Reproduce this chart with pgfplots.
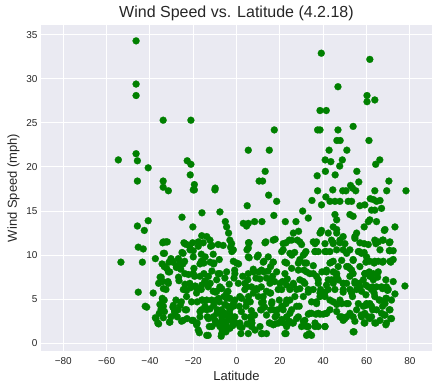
\documentclass[border=0pt]{standalone}
\usepackage{fontspec}
\setmainfont{Liberation Sans}
\usepackage{pgfplots}
\pgfplotsset{compat=1.18}
\usepackage{pgfplotstable}
\definecolor{bgc}{HTML}{EAEAF2}
\definecolor{txt}{HTML}{262626}
\definecolor{ptc}{HTML}{008000}

\pgfplotstableread{
lat wind
-46.4 34.3
-46.4 29.4
-46.4 28.1
-54.6 20.8
-46.4 21.5
-45.8 20.7
-45.8 18.4
-40.8 19.9
-33.9 25.3
-33.9 18.4
-33.9 17.7
-31.5 17.3
-21.1 25.3
-22.8 20.7
-21.1 20.3
-21.4 19.1
-19.5 18.0
-19.5 17.4
-9.9 17.6
5.4 21.9
15.1 21.9
10.4 18.4
12.0 18.4
13.2 19.5
17.4 24.2
39.1 32.9
38.5 26.4
41.4 26.4
37.4 24.2
38.5 24.2
46.8 29.1
46.8 24.2
46.3 23.0
47.8 23.0
42.7 21.9
50.9 21.9
40.9 20.8
43.5 20.6
48.8 20.8
47.6 20.1
41.0 19.5
45.5 19.1
37.2 19.0
55.5 19.5
56.4 18.3
53.8 24.6
61.5 32.2
60.2 28.1
60.2 27.4
63.8 27.6
61.1 23.0
66.1 20.8
64.2 20.3
70.3 18.4
69.3 17.3
63.8 17.3
78.2 17.3
52.6 17.9
53.5 17.6
49.0 17.3
50.5 17.3
55.0 17.3
44.4 17.4
37.4 17.3
-20.0 17.4
-10.0 17.4
34.8 16.2
61.7 16.4
66.2 16.2
56.9 15.6
-53.4 9.2
-45.8 13.3
-42.6 12.8
-40.8 13.9
-45.4 10.9
-43.1 10.7
-43.5 9.2
-45.4 5.8
-42.2 4.2
-41.5 4.1
-38.5 5.7
-37.5 9.6
-37.5 2.9
-36.0 2.2
-34.8 7.5
-34.8 7.1
-33.8 10.2
-33.8 11.5
-32.6 11.5
-32.0 11.5
-33.4 8.7
-34.3 5.1
-33.4 4.9
-33.8 4.2
-34.8 3.8
-33.8 2.9
-31.5 6.8
-31.5 8.1
-30.3 9.6
-29.8 9.3
-30.8 2.4
-35.7 3.4
-35.4 4.4
-32.6 6.1
-32.3 8.5
-36.0 6.8
-25.2 14.3
-28.9 3.9
-29.2 4.3
-28.5 3.5
-26.0 4.3
-26.8 7.5
-25.8 8.4
-25.2 10.3
-24.0 9.3
-24.8 9.0
-23.8 6.7
-23.1 5.3
-23.7 3.8
-22.9 2.8
-24.3 11.4
-23.1 11.2
-22.2 7.8
-21.2 6.3
-20.6 2.6
-21.5 10.6
-20.3 11.4
-27.7 8.7
-27.4 3.0
-24.6 6.1
-26.9 9.6
-25.4 2.5
-28.0 4.9
-20.2 13.2
-16.0 14.8
-20.0 9.8
-19.7 8.5
-19.4 7.6
-19.1 6.5
-18.2 4.7
-18.2 2.3
-17.2 1.2
-18.5 2.1
-16.3 10.1
-16.3 9.3
-16.9 7.6
-16.3 6.1
-15.7 4.9
-16.2 3.8
-15.4 11.4
-13.8 12.1
-14.8 6.9
-13.8 4.9
-13.5 3.0
-13.1 0.9
-12.6 1.9
-12.3 3.9
-10.8 5.9
-11.4 8.2
-10.5 9.1
-10.8 10.1
-12.0 11.0
-17.7 11.0
-15.1 9.1
-13.0 7.6
-18.5 5.7
-14.6 4.2
-11.5 4.9
-16.9 3.0
-10.8 3.0
-15.1 7.9
-13.1 6.4
-12.3 11.7
-7.7 14.9
-8.5 11.2
-8.0 9.5
-7.7 7.9
-7.7 6.4
-8.0 4.7
-6.9 3.8
-6.8 3.0
-6.5 2.3
-6.6 1.5
-7.1 0.8
-5.2 13.8
-4.6 13.2
-3.7 12.5
-3.1 11.7
-2.8 10.9
-2.2 10.4
-1.5 9.3
-0.9 8.3
-1.2 7.4
-3.4 6.7
-4.0 5.9
-4.6 5.1
-4.0 4.2
-3.1 3.3
-2.5 2.6
-1.8 2.0
-3.8 3.0
-6.2 3.4
-9.2 4.9
-9.2 5.9
-10.0 2.6
-9.5 2.3
-7.7 1.9
-5.2 2.2
-1.5 2.8
-8.5 7.9
-9.2 7.2
-5.8 5.3
-5.4 4.4
-3.1 5.1
-1.5 4.2
-0.8 4.9
-8.9 3.8
-4.6 2.5
-0.6 2.3
-3.1 1.7
-4.9 1.3
0.0 9.1
0.9 9.0
1.5 5.3
2.2 3.6
1.5 2.3
2.5 1.8
2.0 1.1
4.9 15.6
4.6 13.3
5.4 13.6
4.8 10.6
5.5 11.4
5.8 9.7
5.2 7.2
4.6 6.4
5.5 5.3
6.3 4.7
6.8 3.7
6.5 3.0
4.9 2.2
5.4 1.1
7.1 2.3
8.3 3.2
8.9 7.4
9.5 6.1
7.7 8.4
8.3 13.8
3.1 13.6
9.5 9.8
3.8 6.1
2.8 7.6
0.8 6.8
1.2 4.2
3.8 3.0
7.7 5.7
6.9 6.4
8.5 1.5
4.3 4.2
11.7 13.8
10.2 8.1
10.8 7.3
11.4 6.4
11.5 4.6
11.1 3.8
10.8 1.9
11.7 1.1
12.9 4.1
13.8 5.9
12.6 8.1
13.5 11.5
14.5 8.2
15.7 8.7
16.6 7.6
15.7 5.7
16.3 4.7
16.9 3.8
17.8 3.0
17.8 2.2
17.5 7.0
18.5 8.1
16.9 9.2
15.1 2.3
13.8 1.1
12.6 9.3
14.8 16.8
17.2 14.5
16.9 11.7
17.8 11.8
18.5 16.1
15.4 6.8
19.2 6.1
19.7 4.9
13.8 3.2
12.3 5.3
15.7 3.8
18.8 3.8
19.4 2.3
14.6 9.8
22.5 13.8
21.5 10.6
22.8 11.4
24.3 11.7
25.5 10.0
26.8 10.3
26.2 12.5
27.4 13.8
28.0 11.7
28.6 12.7
29.2 11.5
23.1 9.1
22.3 7.9
21.2 7.0
20.8 6.1
23.4 7.3
24.6 6.1
26.2 6.8
27.7 6.1
29.2 7.2
28.5 8.3
26.9 5.3
24.6 4.9
22.8 4.5
21.5 3.8
23.1 3.0
24.3 2.5
23.1 1.9
22.8 1.1
25.8 2.3
27.7 2.8
28.9 4.2
30.0 1.9
20.8 2.7
21.8 2.3
25.4 3.8
29.2 9.5
30.0 11.2
30.5 15.0
33.1 14.2
31.5 10.2
32.3 9.1
31.1 8.3
33.8 7.9
31.5 6.8
33.1 6.1
32.0 10.4
35.4 11.5
36.2 10.4
36.9 11.5
37.7 10.4
38.8 12.6
39.2 12.8
39.2 15.7
39.4 8.1
37.7 7.2
35.4 6.1
38.5 5.3
36.9 4.5
34.6 3.4
33.1 3.3
31.5 2.6
32.3 1.9
33.5 1.1
34.6 0.9
36.2 2.3
37.7 1.9
36.6 3.3
38.5 3.3
40.0 3.3
38.8 6.1
35.4 8.8
30.8 5.3
34.6 4.7
36.9 7.6
41.2 16.6
43.1 16.1
45.4 16.1
47.7 16.1
45.4 14.6
46.2 14.0
44.6 13.2
42.3 12.5
46.2 12.9
47.7 11.7
49.2 12.1
43.8 11.7
40.8 10.4
43.1 10.4
44.6 11.4
46.2 10.6
47.7 11.4
49.2 10.6
41.5 8.3
43.1 9.1
44.6 9.3
46.9 8.7
46.2 7.6
44.6 6.8
42.3 6.1
40.8 5.3
43.1 4.9
45.4 6.1
47.7 4.9
49.2 6.1
49.2 6.8
46.9 7.2
41.5 3.4
43.1 3.8
40.8 1.9
47.7 3.0
49.2 2.6
46.2 4.4
44.6 8.1
42.3 7.2
51.5 16.1
53.1 16.1
52.3 14.6
53.8 14.4
55.4 12.5
54.6 11.9
56.9 11.4
57.7 10.2
56.2 10.4
59.2 15.7
50.8 10.2
51.5 8.7
53.1 8.3
53.8 9.5
52.3 7.6
50.8 6.8
52.3 6.1
54.6 6.8
55.4 6.1
56.9 6.4
58.5 7.2
59.2 7.9
57.7 5.9
50.8 4.5
52.3 3.4
53.8 3.0
54.6 2.5
54.2 1.3
55.4 3.8
57.7 3.0
59.2 2.3
50.8 3.0
56.2 4.5
58.5 4.2
59.2 3.4
53.5 5.3
50.8 8.7
56.9 8.7
58.9 13.2
60.8 13.8
61.5 14.0
63.1 16.3
64.6 16.1
62.3 15.1
63.8 15.1
66.9 15.3
64.6 13.8
63.8 11.7
65.4 11.5
67.7 11.7
68.5 12.9
60.8 11.2
61.5 9.3
63.8 9.3
65.4 9.3
67.7 9.3
60.0 7.9
61.5 7.6
63.1 7.9
65.4 8.1
60.8 6.4
62.3 6.1
64.6 6.4
66.9 6.4
69.2 6.4
60.0 4.5
61.5 4.5
63.8 5.3
66.2 4.9
68.5 4.5
62.3 4.2
64.6 3.8
60.8 3.0
63.8 2.3
66.2 2.6
69.2 2.3
68.5 3.2
62.3 3.0
66.9 3.4
63.1 7.2
60.0 9.8
66.2 10.6
70.8 11.5
70.8 10.5
72.3 10.5
72.3 9.5
73.1 13.2
70.8 9.3
70.0 6.1
72.3 7.0
71.5 4.9
70.8 3.8
71.5 2.8
73.1 5.6
77.7 6.5
69.2 5.1
-34.1 11.4
-33.3 10.2
-34.4 9.0
-31.2 9.2
-35.3 7.5
-34.1 7.0
-31.7 7.0
-30.9 8.1
-29.4 9.2
-33.8 6.2
-26.6 7.1
-27.8 8.6
-26.3 9.2
-24.7 10.2
-23.9 11.3
-21.6 11.1
-20.0 10.5
-17.7 11.5
-16.1 12.2
-16.9 9.0
-14.5 9.8
-11.4 11.1
-12.2 9.2
-10.6 9.0
-23.9 7.9
-21.6 6.8
-20.0 7.9
-18.4 6.2
-16.1 6.6
-14.5 7.1
-12.2 6.8
-9.8 5.8
-23.1 6.0
-34.1 4.9
-34.8 3.9
-37.2 2.8
-36.4 2.3
-33.3 3.6
-29.4 4.1
-30.3 3.0
-31.0 2.4
-28.6 3.6
-24.7 2.6
-20.8 4.7
-20.0 2.6
-17.7 1.5
-16.1 4.9
-13.8 3.8
-13.0 2.8
-11.4 1.9
-13.8 0.9
-10.6 4.3
-9.1 3.4
-8.3 5.1
-25.5 4.7
-27.0 3.8
-16.9 3.6
-23.1 3.8
-6.2 11.1
-2.3 11.3
-1.5 10.6
5.8 11.4
5.4 10.8
13.1 11.4
21.5 11.3
25.4 11.7
24.6 10.2
20.8 10.4
5.4 9.8
10.0 10.0
12.3 9.2
16.9 9.2
22.3 9.2
25.4 8.5
28.5 9.1
-4.6 8.1
-0.8 7.9
5.4 7.9
7.7 8.1
11.5 8.3
13.8 7.4
16.2 7.2
20.0 6.8
23.1 6.6
26.2 6.6
29.2 6.2
-5.4 7.4
-6.9 6.2
-4.6 5.7
-1.5 4.5
-3.1 3.8
-5.4 3.4
-6.9 2.6
-4.6 1.9
-6.9 1.1
-0.8 3.0
1.5 1.9
2.3 5.1
4.6 4.7
6.9 2.6
6.9 1.9
11.5 1.1
11.5 3.8
12.3 4.7
15.4 5.7
16.2 4.5
15.4 2.3
16.9 2.1
18.5 3.2
20.8 4.2
23.1 4.9
24.6 3.4
27.7 4.2
22.3 1.1
23.1 2.1
26.2 2.3
28.5 3.0
9.2 6.2
3.8 6.8
10.0 5.3
38.5 12.5
46.2 12.5
54.6 12.1
36.2 11.3
40.8 11.3
44.6 11.3
50.0 11.3
36.2 10.4
41.5 10.4
52.3 10.6
30.8 10.0
31.5 9.1
43.8 9.2
48.5 9.4
53.8 9.4
41.5 8.1
46.2 7.9
52.3 8.5
53.8 7.9
54.6 7.0
32.3 8.1
35.4 7.9
30.8 7.0
37.7 6.8
41.5 6.6
43.8 7.2
49.2 6.8
33.1 5.8
38.5 5.7
40.8 5.8
49.2 5.8
53.1 5.7
36.9 4.7
44.6 4.7
48.5 4.5
51.5 4.5
33.8 3.4
37.7 3.4
41.5 3.4
46.2 3.6
48.5 3.0
50.0 2.8
30.8 2.5
33.1 1.9
36.2 1.9
40.8 1.9
53.8 1.3
32.3 0.9
68.2 12.8
64.3 11.3
67.4 11.7
70.5 11.4
58.9 11.3
56.6 10.4
58.9 10.3
70.5 10.5
59.7 9.2
63.5 9.1
67.4 9.2
71.2 9.2
59.2 7.9
61.2 8.1
65.1 7.5
68.9 7.2
56.6 6.8
59.7 6.6
62.8 6.4
67.4 6.2
69.7 6.0
59.7 5.5
63.5 5.7
65.8 4.9
68.9 5.1
59.7 4.3
62.8 3.8
67.4 4.2
70.5 3.8
57.5 3.2
61.5 2.8
68.2 3.2
71.2 2.8
58.9 2.3
64.3 2.3
68.9 2.1
}\data

\begin{document}
\begin{tikzpicture}
\begin{axis}[
 at={(0,0)}, anchor=south west,
 scale only axis, width=391pt, height=325.7pt,
 xmin=-90.3, xmax=90.2, ymin=-0.84, ymax=36.1,
 axis background/.style={fill=bgc},
 axis line style={draw=none},
 major tick style={draw=none},
 grid=major, major grid style={white, line width=1pt},
 xtick={-80,-60,...,80},
 xticklabels={−80,−60,−40,−20,0,20,40,60,80},
 ytick={0,5,...,35},
 /pgf/number format/assume math mode=true,
 ticklabel style={font=\fontsize{10}{12}\selectfont, text=txt},
 xticklabel style={yshift=-3pt},
 xlabel={Latitude}, ylabel={Wind Speed (mph)},
 label style={font=\fontsize{13}{15}\selectfont, text=txt},
 title={Wind Speed vs. Latitude (4.2.18)},
 title style={font=\fontsize{16}{19}\selectfont, text=txt, yshift=-5.5pt},
]
\addplot[only marks, mark=*, color=ptc, mark size=3.5pt, mark options={fill=ptc, draw=ptc, line width=0.2pt}] table[x=lat,y=wind]{\data};
\end{axis}
\path (-41pt,-39.3pt) rectangle (398pt,350.7pt);
\end{tikzpicture}
\end{document}
